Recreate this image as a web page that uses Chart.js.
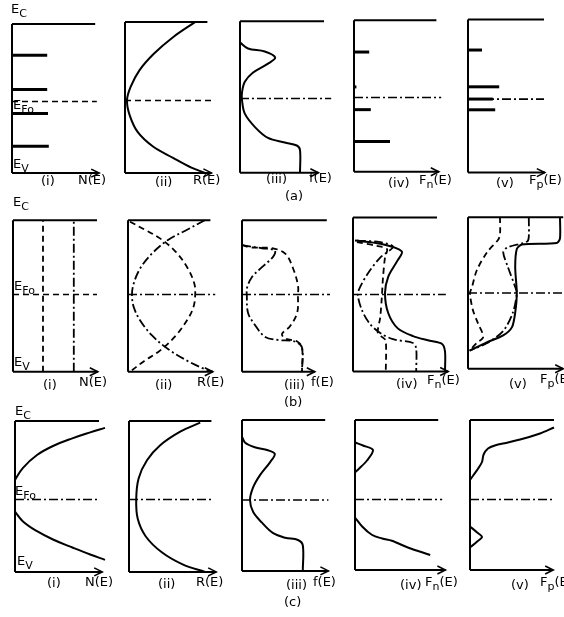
<!DOCTYPE html>
<html><head><meta charset="utf-8">
<script src="https://cdn.jsdelivr.net/npm/chart.js@4.4.0/dist/chart.umd.min.js"></script>
<style>
html,body{margin:0;padding:0;background:#fff;}
#wrap{position:relative;width:564px;height:617px;overflow:hidden;font-family:"DejaVu Sans",sans-serif;color:#000;}
canvas{position:absolute;}
.lb{position:absolute;font-size:13px;line-height:14px;white-space:nowrap;}
.lb sub{font-size:11px;vertical-align:-4px;line-height:0;}
</style></head><body><div id="wrap"></div>
<script>
// ---------- DATA (x = quantity along the horizontal axis, E = energy: 0 = E_V, 1 = E_C) ----------
// Row (a)
const a1Levels = [0.79, 0.56, 0.40, 0.18];
const a1Widths = [0.44, 0.44, 0.45, 0.46];
const a2R = [[0.875,1.0],[0.6,0.9],[0.36,0.79],[0.18,0.68],[0.07,0.57],[0.025,0.48],[0.06,0.38],[0.16,0.27],[0.35,0.175],[0.6,0.1],[0.83,0.035],[1.0,0]];
const a3f = [[0,0.86],[0.1,0.82],[0.31,0.80],[0.44,0.76],[0.35,0.72],[0.16,0.66],[0.06,0.60],[0.025,0.53],[0.025,0.48],[0.06,0.39],[0.19,0.30],[0.35,0.23],[0.56,0.20],[0.71,0.18],[0.75,0.15],[0.75,0]];
const a4Levels = [0.79, 0.56, 0.41, 0.20];
const a4Widths = [0.19, 0.03, 0.21, 0.45];
const a5Levels = [0.80, 0.56, 0.48, 0.41];
const a5Widths = [0.175, 0.39, 0.31, 0.34];
const EF0a = [0.48, 0.48, 0.49, 0.49, 0.48];
// Row (b)
const b1Dash = [[0.375,0],[0.375,1]];
const b1DashDot = [[0.76,0],[0.76,1]];
const b2Dash = [[0.025,0.99],[0.2,0.94],[0.4,0.88],[0.6,0.79],[0.75,0.68],[0.83,0.58],[0.84,0.51],[0.82,0.43],[0.75,0.35],[0.6,0.24],[0.4,0.14],[0.2,0.07],[0.05,0.01]];
const b2DashDot = [[0.96,1.0],[0.75,0.94],[0.5,0.87],[0.3,0.78],[0.15,0.68],[0.07,0.58],[0.05,0.51],[0.07,0.43],[0.15,0.34],[0.3,0.24],[0.5,0.15],[0.75,0.07],[0.95,0.02],[1.06,0]];
const b3Dash = [[0,0.835],[0.125,0.82],[0.375,0.815],[0.54,0.78],[0.64,0.68],[0.7,0.57],[0.7,0.51],[0.69,0.39],[0.6,0.30],[0.5,0.25],[0.54,0.22],[0.69,0.20],[0.75,0.16],[0.75,0]];
const b3DashDot = [[0,0.835],[0.25,0.815],[0.41,0.80],[0.39,0.76],[0.25,0.69],[0.125,0.625],[0.06,0.55],[0.06,0.51],[0.075,0.39],[0.16,0.31],[0.29,0.23],[0.45,0.21],[0.66,0.20],[0.75,0.16],[0.75,0]];
const b4Solid = [[0.025,0.85],[0.34,0.83],[0.61,0.78],[0.55,0.715],[0.44,0.615],[0.4,0.51],[0.44,0.38],[0.56,0.28],[0.75,0.23],[0.96,0.2],[1.11,0.18],[1.15,0.13],[1.15,0]];
const b4Dash = [[0.05,0.84],[0.3,0.815],[0.425,0.795],[0.4,0.74],[0.375,0.61],[0.36,0.48],[0.34,0.35],[0.31,0.25],[0.375,0.22],[0.41,0.2],[0.41,0]];
const b4DashDot = [[0.05,0.85],[0.34,0.84],[0.5,0.81],[0.34,0.74],[0.19,0.64],[0.09,0.55],[0.06,0.5],[0.11,0.4],[0.21,0.31],[0.34,0.25],[0.5,0.21],[0.75,0.185],[0.79,0.15],[0.79,0]];
const b5Solid = [[1.15,1.0],[1.15,0.86],[1.11,0.83],[0.675,0.82],[0.61,0.79],[0.59,0.67],[0.61,0.50],[0.59,0.37],[0.55,0.275],[0.44,0.22],[0.24,0.175],[0.02,0.12]];
const b5DashDot = [[0.76,1.0],[0.76,0.87],[0.74,0.84],[0.49,0.8],[0.44,0.77],[0.5,0.67],[0.59,0.54],[0.61,0.5],[0.56,0.37],[0.44,0.25],[0.24,0.17],[0.02,0.12]];
const b5Dash = [[0.4,1.0],[0.4,0.885],[0.375,0.85],[0.24,0.77],[0.11,0.65],[0.05,0.54],[0.025,0.5],[0.06,0.39],[0.125,0.3],[0.19,0.21],[0.11,0.17],[0.02,0.12]];
const EF0b = [0.51, 0.51, 0.51, 0.50, 0.50];
// Row (c)
const c1Upper = [[0,0.61],[0.1,0.69],[0.275,0.775],[0.475,0.835],[0.725,0.887],[0.94,0.925],[1.125,0.955]];
const c1Lower = [[0,0.40],[0.1,0.335],[0.275,0.27],[0.475,0.215],[0.725,0.16],[0.94,0.115],[1.125,0.08]];
const c2R = [[0.89,0.99],[0.64,0.93],[0.39,0.84],[0.225,0.74],[0.12,0.62],[0.09,0.48],[0.11,0.35],[0.21,0.235],[0.41,0.13],[0.67,0.05],[0.95,0]];
const c3f = [[0,0.89],[0.04,0.85],[0.16,0.82],[0.325,0.80],[0.41,0.775],[0.35,0.72],[0.225,0.635],[0.14,0.555],[0.1,0.47],[0.14,0.39],[0.25,0.32],[0.39,0.25],[0.54,0.22],[0.7,0.205],[0.76,0.17],[0.76,0]];
const c4Upper = [[0,0.85],[0.1,0.83],[0.225,0.80],[0.15,0.73],[0.04,0.67],[0,0.65]];
const c4Lower = [[0,0.35],[0.09,0.29],[0.21,0.235],[0.34,0.21],[0.46,0.195],[0.66,0.15],[0.94,0.10]];
const c5Upper = [[1.05,0.95],[0.875,0.91],[0.66,0.875],[0.475,0.85],[0.31,0.83],[0.225,0.81],[0.17,0.77],[0.15,0.72],[0.1,0.675],[0.04,0.63],[0,0.6]];
const c5Lower = [[0,0.29],[0.09,0.25],[0.15,0.22],[0.09,0.19],[0,0.15]];
const EF0c = [0.48, 0.48, 0.47, 0.47, 0.47];

// Axis texts
const axisNames = ['N(E)', 'R(E)', 'f(E)', 'F<sub>n</sub>(E)', 'F<sub>p</sub>(E)'];
const panelNames = ['(i)', '(ii)', '(iii)', '(iv)', '(v)'];
const rowNames = ['(a)', '(b)', '(c)'];
const levelNames = ['E<sub>C</sub>', 'E<sub>Fo</sub>', 'E<sub>V</sub>'];

// ---------- LAYOUT (pixels) ----------
const rows = [
  {L:[12,125,240,354,468], T:[24,22,21,20,19], B:[173,173,173,172,172],
   top:[1.04,1.03,1.05,1.03,0.95], tip:[1.09,1.08,0.98,1.06,0.96], efEnd:[1.06,1.1,1.14,1.09,0.95],
   ef:EF0a, efStyle:['dash','dash','dashdot','dashdot','dashdot']},
  {L:[13,128,242,353,468], T:[220,220,220,217,217], B:[372,372,372,371,369],
   top:[1.05,1.03,1.06,1.05,1.19], tip:[1.06,1.06,0.91,1.19,1.19], efEnd:[1.05,1.09,1.1,1.16,1.19],
   ef:EF0b, efStyle:['dash','dashdot','dashdot','dashdot','dashdot']},
  {L:[15,129,242,355,470], T:[421,421,420,420,420], B:[572,572,571,570,570],
   top:[1.05,1.03,1.04,1.04,1.05], tip:[1.09,1.09,1.08,1.13,1.04], efEnd:[1.06,1.06,1.08,1.09,1.05],
   ef:EF0c, efStyle:['dashdot','dashdot','dashdot','dashdot','dashdot']}
];
const labelPos = [
  {lev:[[11,9],[13,105],[13,164]], pan:[[41,181],[155,182],[266,179],[388,183],[496,183]], ax:[[78,180],[193,180],[309,178],[419,180],[529,180]], row:[285,196]},
  {lev:[[13,202],[14,286],[14,362]], pan:[[43,385],[155,385],[284,385],[396,384],[509,384]], ax:[[79,382],[197,382],[311,382],[427,380],[540,379]], row:[284,402]},
  {lev:[[15,411],[15,491],[17,561]], pan:[[47,583],[158,584],[286,585],[400,585],[511,585]], ax:[[85,582],[196,582],[313,582],[425,582],[540,582]], row:[284,602]}
];

const U = 80, XMIN = -0.15, XMAX = 1.35, YMIN = -0.12, YMAX = 1.12;
const DASH = {solid:[], dash:[6,4], dashdot:[9,3,2,3]};
const wrap = document.getElementById('wrap');

function ds(pts, style, w, t, mono){
  const o = {data: pts.map(p => ({x:p[0], y:p[1]})), showLine:true, borderColor:'#000',
    borderWidth: w || 2, borderDash: DASH[style || 'solid'], pointRadius:0, tension: t || 0,
    clip:false, fill:false, borderCapStyle:'butt', borderJoinStyle:'round'};
  if (mono) o.cubicInterpolationMode = 'monotone';
  return o;
}
function bars(levels, widths){
  return levels.map((e,i) => ds([[0,e],[widths[i],e]], 'solid', 3));
}
const arrowPlugin = {
  id:'arrow',
  afterDatasetsDraw(chart, args, opts){
    const ctx = chart.ctx, px = chart.scales.x.getPixelForValue(opts.tip), py = chart.scales.y.getPixelForValue(0);
    ctx.save(); ctx.strokeStyle = '#000'; ctx.lineWidth = 1.6; ctx.setLineDash([]);
    ctx.beginPath(); ctx.moveTo(px-8, py-4); ctx.lineTo(px, py); ctx.lineTo(px-8, py+4); ctx.stroke();
    ctx.restore();
  }
};

const curves = [
  [ bars(a1Levels,a1Widths), [ds(a2R,'solid',2,0.35)], [ds(a3f,'solid',2,0.35)], bars(a4Levels,a4Widths), bars(a5Levels,a5Widths) ],
  [ [ds(b1Dash,'dash',1.8), ds(b1DashDot,'dashdot',1.8)],
    [ds(b2Dash,'dash',1.8,0.35), ds(b2DashDot,'dashdot',1.8,0.35)],
    [ds(b3Dash,'dash',1.8,0.35), ds(b3DashDot,'dashdot',1.8,0.35)],
    [ds(b4Solid,'solid',2,0.3), ds(b4Dash,'dash',1.8,0.3), ds(b4DashDot,'dashdot',1.8,0.3)],
    [ds(b5Solid,'solid',2,0.25), ds(b5Dash,'dash',1.8,0.3), ds(b5DashDot,'dashdot',1.8,0.3)] ],
  [ [ds(c1Upper,'solid',2,0.4), ds(c1Lower,'solid',2,0.4)], [ds(c2R,'solid',2,0.35)], [ds(c3f,'solid',2,0.35)],
    [ds(c4Upper,'solid',2,0.3), ds(c4Lower,'solid',2,0,true)], [ds(c5Upper,'solid',2,0.3), ds(c5Lower,'solid',2,0.3)] ]
];

rows.forEach((r, ri) => {
  for (let k = 0; k < 5; k++){
    const L = r.L[k], T = r.T[k], B = r.B[k], H = B - T;
    const cv = document.createElement('canvas');
    const w = Math.round((XMAX-XMIN)*U), h = Math.round((YMAX-YMIN)*H);
    cv.width = w; cv.height = h; cv.style.width = w+'px'; cv.style.height = h+'px';
    cv.style.left = (L + XMIN*U) + 'px'; cv.style.top = (T - (YMAX-1)*H) + 'px';
    wrap.appendChild(cv);
    const sets = [
      ds([[0,0],[0,1]],'solid',2), ds([[0,1],[r.top[k],1]],'solid',2), ds([[0,0],[r.tip[k],0]],'solid',2),
      ds([[0,r.ef[k]],[r.efEnd[k],r.ef[k]]], r.efStyle[k], 1.7)
    ].concat(curves[ri][k]);
    new Chart(cv, {type:'scatter', data:{datasets:sets},
      options:{responsive:false, animation:false, devicePixelRatio:1, events:[], layout:{padding:0},
        plugins:{legend:{display:false}, tooltip:{enabled:false}, arrow:{tip:r.tip[k]}},
        scales:{x:{type:'linear', min:XMIN, max:XMAX, display:false}, y:{type:'linear', min:YMIN, max:YMAX, display:false}}},
      plugins:[arrowPlugin]});
  }
});

function label(html, x, cy){
  const d = document.createElement('div'); d.className = 'lb'; d.innerHTML = html;
  d.style.left = x + 'px'; d.style.top = (cy - 7) + 'px'; wrap.appendChild(d);
}
labelPos.forEach((p, ri) => {
  p.lev.forEach((q,i) => label(levelNames[i], q[0], q[1]));
  p.pan.forEach((q,i) => label(panelNames[i], q[0], q[1]));
  p.ax.forEach((q,i) => label(axisNames[i], q[0], q[1]));
  label(rowNames[ri], p.row[0], p.row[1]);
});
</script></body></html>
